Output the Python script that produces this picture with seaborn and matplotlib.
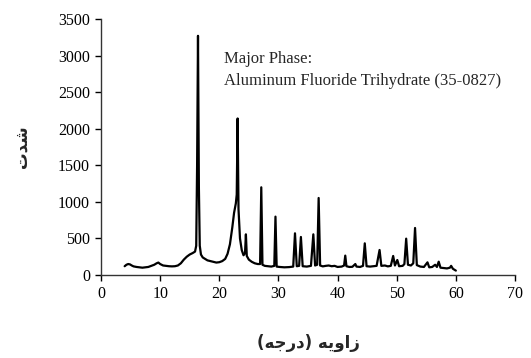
import matplotlib
matplotlib.use("Agg")
import matplotlib.pyplot as plt
import seaborn as sns
import pandas as pd

two_theta = [
    4.0, 4.3, 4.6, 4.9, 5.2, 5.5, 6.0, 6.5, 7.0, 7.5, 8.0, 8.5, 9.0, 9.4, 9.7,
    10.0, 10.5, 11.0, 11.5, 12.0, 12.5, 13.0, 13.5, 14.0, 14.5, 15.0, 15.5, 15.9,
    16.1, 16.25, 16.4, 16.55, 16.7, 16.9, 17.2, 17.6, 18.0, 18.5, 19.0, 19.5,
    20.0, 20.5, 21.0, 21.4, 21.8, 22.2, 22.5, 22.8, 22.95, 23.1, 23.25, 23.5,
    23.8, 24.1, 24.35, 24.5, 24.65, 25.0, 25.5, 26.0, 26.5, 26.9, 27.1, 27.3,
    27.7, 28.2, 28.8, 29.3, 29.5, 29.7, 30.2, 31.0, 31.8, 32.5, 32.8, 33.1,
    33.5, 33.8, 34.1, 34.8, 35.5, 35.9, 36.2, 36.55, 36.8, 37.05, 37.5, 38.0,
    38.5, 39.0, 39.5, 40.0, 40.7, 41.1, 41.3, 41.5, 42.0, 42.5, 43.0, 43.2,
    43.8, 44.3, 44.6, 44.9, 45.5, 46.0, 46.6, 47.1, 47.4, 48.0, 48.5, 49.0,
    49.4, 49.7, 50.1, 50.4, 51.0, 51.3, 51.6, 51.9, 52.4, 52.8, 53.1, 53.4,
    54.0, 54.6, 55.2, 55.5, 56.0, 56.5, 56.8, 57.1, 57.4, 58.0, 58.5, 59.0,
    59.2, 59.5, 59.8, 60.0,
]
intensity = [
    120, 140, 150, 145, 130, 118, 110, 105, 100, 105, 110, 125, 140, 160, 170,
    150, 130, 125, 120, 118, 120, 130, 160, 210, 250, 280, 300, 320,
    400, 1500, 3270, 1200, 400, 280, 240, 220, 200, 190, 180, 170,
    175, 190, 220, 290, 420, 650, 850, 980, 1100, 2140, 900, 500,
    340, 270, 300, 556, 260, 210, 180, 160, 150, 150, 1199, 140,
    125, 120, 115, 125, 798, 115, 110, 105, 108, 115, 570, 120,
    125, 520, 120, 115, 125, 556, 130, 140, 1053, 130, 118, 125,
    130, 120, 125, 110, 115, 130, 265, 120, 110, 112, 150, 115,
    110, 125, 433, 120, 115, 120, 125, 342, 125, 130, 118, 125,
    260, 130, 205, 120, 125, 150, 497, 140, 130, 160, 643, 135,
    115, 110, 173, 105, 110, 140, 110, 182, 100, 95, 90, 100,
    125, 85, 70, 60,
]

x_ticks = [0, 10, 20, 30, 40, 50, 60, 70]
y_ticks = [0, 500, 1000, 1500, 2000, 2500, 3000, 3500]

annotation_lines = ["Major Phase:", "Aluminum Fluoride Trihydrate (35-0827)"]
# Persian labels (shaped presentation forms, visual order)
y_label = "\uFE95\uFEAA\uFEB7"                      # شدت
x_label = "(\uFEEA\uFE9F\uFEAD\uFEA9) \uFEEA\uFBFE\uFEED\uFE8D\uFEAF"  # زاویه (درجه)

df = pd.DataFrame({"two_theta": two_theta, "intensity": intensity})

sns.set_style("ticks")
plt.rcParams["font.family"] = ["Liberation Serif", "DejaVu Serif"]

fig = plt.figure(figsize=(5.31, 3.58), dpi=100)
ax = fig.add_axes([101 / 531, 1 - 275 / 358, (515 - 101) / 531, (275 - 19) / 358])

sns.lineplot(data=df, x="two_theta", y="intensity", ax=ax, color="black",
             linewidth=1.6, estimator=None, sort=False)

ax.set_xlim(0, 70)
ax.set_ylim(0, 3500)
ax.set_xticks(x_ticks)
ax.set_yticks(y_ticks)
ax.tick_params(axis="both", labelsize=11.5, colors="black", direction="out",
               length=4, width=1, pad=4)
for s in ["top", "right"]:
    ax.spines[s].set_visible(False)
for s in ["left", "bottom"]:
    ax.spines[s].set_color("#333333")
    ax.spines[s].set_linewidth(1)

ax.text(20.8, 2903, annotation_lines[0], fontsize=12, va="baseline", ha="left")
ax.text(20.8, 2598, annotation_lines[1], fontsize=12, va="baseline", ha="left")

ax.set_xlabel(x_label, fontsize=12, fontfamily=["DejaVu Sans"], fontweight="bold",
              labelpad=23)
ax.set_ylabel(y_label, fontsize=12, fontfamily=["DejaVu Sans"], fontweight="bold",
              labelpad=20)

fig.savefig("out.png", dpi=100)
